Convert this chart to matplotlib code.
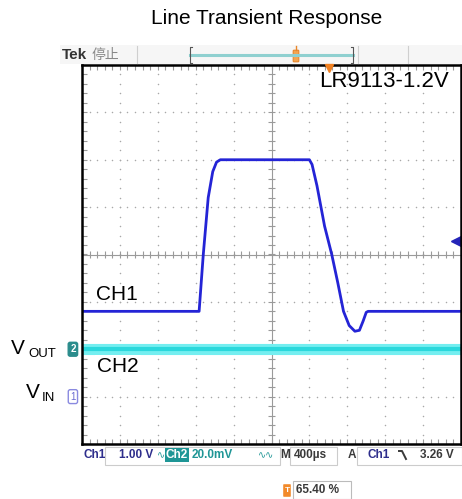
import numpy as np
import matplotlib
matplotlib.use("Agg")
import matplotlib.pyplot as plt
from matplotlib.patches import Rectangle, FancyBboxPatch

plt.rcParams["font.family"] = ["Liberation Sans", "DejaVu Sans"]

W, H = 462, 499
TITLE = "Line Transient Response"
PART = "LR9113-1.2V"

# traces, in divisions from screen centre
ch1_t = [-5.0, -1.91, -1.80, -1.67, -1.55, -1.45, -1.35, 1.0, 1.07, 1.2, 1.4,
         1.59, 1.75, 1.9, 2.05, 2.2, 2.32, 2.42, 2.5, 2.55, 5.0]
ch1_v = [-1.2, -1.2, 0.0, 1.2, 1.75, 1.95, 2.0, 2.0, 1.9, 1.45, 0.6,
         0.0, -0.6, -1.2, -1.5, -1.62, -1.6, -1.4, -1.22, -1.2, -1.2]
ch2_t = [-5.0, 5.0]
ch2_v = [-2.0, -2.0]
CH1_REF, CH2_REF = -3.0, -2.0
TRIG_LEVEL = 0.28

NAVY, TEAL, DARK = "#2e2e8c", "#1f9696", "#3a3a3a"
status = [("Ch1", 83, NAVY), ("1.00 V", 119, NAVY), ("20.0mV", 192, TEAL),
          ("M", 280, DARK), ("400µs", 294, DARK), ("A", 348, DARK),
          ("Ch1", 367, NAVY), ("3.26 V", 420, DARK)]

fig = plt.figure(figsize=(W / 100, H / 100), dpi=100)
ov = fig.add_axes([0, 0, 1, 1])
ov.set_xlim(0, W); ov.set_ylim(H, 0); ov.axis("off")
ov.set_zorder(3)

# scope screen: 10 x 8 divisions
scr = fig.add_axes([82 / W, (H - 444) / H, 379 / W, 379 / H])
scr.set_xlim(-5, 5); scr.set_ylim(-4, 4)
scr.set_xticks([]); scr.set_yticks([])
for s in scr.spines.values():
    s.set_linewidth(1.8); s.set_color("black")

xs = np.arange(-5, 5.001, 0.2)
ys = np.arange(-4, 4.001, 0.2)
gc = "#a8a8a8"
for gy in range(-3, 4):
    if gy:
        scr.scatter(xs, np.full_like(xs, gy), s=1.2, color=gc, lw=0)
for gx in range(-4, 5):
    if gx:
        scr.scatter(np.full_like(ys, gx), ys, s=1.2, color=gc, lw=0)
scr.axhline(0, color="#9a9a9a", lw=0.8)
scr.axvline(0, color="#9a9a9a", lw=0.8)
scr.vlines(xs, -0.07, 0.07, color="#9a9a9a", lw=0.8)
scr.hlines(ys, -0.09, 0.09, color="#9a9a9a", lw=0.8)
scr.vlines(xs, 3.9, 4, color="#9a9a9a", lw=0.8)
scr.vlines(xs, -4, -3.9, color="#9a9a9a", lw=0.8)
scr.hlines(ys, -5, -4.88, color="#9a9a9a", lw=0.8)

scr.plot(ch2_t, ch2_v, color="#74eef0", lw=8, solid_capstyle="butt")
scr.plot(ch2_t, ch2_v, color="#2ad8dc", lw=3, solid_capstyle="butt")
scr.plot(ch1_t, ch1_v, color="#2424d6", lw=2)
scr.plot(4.88, TRIG_LEVEL, marker="<", ms=7, color="#2424b8", clip_on=False)

# channel ground markers at the left edge
scr.text(-5.24, CH2_REF, "2", ha="center", va="center", fontsize=7, color="white",
         fontweight="bold", clip_on=False,
         bbox=dict(boxstyle="round,pad=0.2", fc="#2b8c8c", ec="#2b8c8c"))
scr.text(-5.24, CH1_REF, "1", ha="center", va="center", fontsize=7, color="#6a6ad0",
         clip_on=False, bbox=dict(boxstyle="round,pad=0.2", fc="white", ec="#8a8ae0"))

# titles and labels
ov.text(267, 18, TITLE, ha="center", va="center", fontsize=15)
ov.text(384, 81, PART, ha="center", va="center", fontsize=16)
ov.text(96, 295, "CH1", ha="left", va="center", fontsize=15)
ov.text(97, 367, "CH2", ha="left", va="center", fontsize=15,
        bbox=dict(boxstyle="square,pad=0.1", fc="white", ec="none"))
ov.text(11, 348, "V", ha="left", va="center", fontsize=15)
ov.text(28, 354, "OUT", ha="left", va="center", fontsize=9.5)
ov.text(26, 392, "V", ha="left", va="center", fontsize=15)
ov.text(42, 398, "IN", ha="left", va="center", fontsize=9.5)

# top status bar
ov.add_patch(Rectangle((60, 45), 402, 19, fc="#f6f6f6", ec="none", zorder=0))
ov.text(62, 55, "Tek", ha="left", va="center", fontsize=11, fontweight="bold", color="#333333")
ov.text(92, 55, "停止", ha="left", va="center", fontsize=10, color="#888888",
        family=["Noto Sans CJK SC", "DejaVu Sans"])
for sx in (137, 358, 408):
    ov.plot([sx, sx], [46, 63], color="#cfcfcf", lw=0.8)
ov.plot([190, 353], [55, 55], color="#8fd0d0", lw=2.2)
ov.plot([192, 190, 190, 192], [47, 47, 63, 63], color="#555555", lw=0.8)
ov.plot([351, 353, 353, 351], [47, 47, 63, 63], color="#555555", lw=0.8)
ov.add_patch(FancyBboxPatch((294, 51), 4, 10, boxstyle="round,pad=0.8",
                            fc="#f4a550", ec="#e8862a", lw=0.8))
ov.plot([296, 296], [46, 50], color="#e8862a", lw=1)
ov.plot(329, 68, marker="v", ms=6, color="#f08020")

# bottom status bar
for x0, w in ((105, 175), (290, 47), (357, 105)):
    ov.add_patch(Rectangle((x0, 447), w, 18, fill=False, ec="#cccccc", lw=0.8))
for txt, x, c in status:
    ov.text(x, 455, txt, ha="left", va="center", fontsize=8.5, fontweight="bold", color=c)
ov.text(157, 455, "∿", ha="left", va="center", fontsize=7, color=TEAL, family=["DejaVu Sans"])
ov.text(166, 455, "Ch2", ha="left", va="center", fontsize=8.5, fontweight="bold", color="white",
        bbox=dict(boxstyle="square,pad=0.1", fc=TEAL, ec="none"))
ov.text(258, 455, "∿∿", ha="left", va="center", fontsize=7, color=TEAL, family=["DejaVu Sans"])
ov.plot([399, 402, 406], [451, 451, 459], color=DARK, lw=1.4)

ov.add_patch(FancyBboxPatch((284, 485), 6, 11, boxstyle="round,pad=0.8", fc="#f28a2a", ec="none"))
ov.text(287, 490.5, "T", ha="center", va="center", fontsize=6, color="white", fontweight="bold")
ov.add_patch(Rectangle((293, 481), 58, 18, fill=False, ec="#bbbbbb", lw=0.8))
ov.text(296, 490, "65.40 %", ha="left", va="center", fontsize=8.5, fontweight="bold", color=DARK)

fig.savefig("out.png", dpi=100)
